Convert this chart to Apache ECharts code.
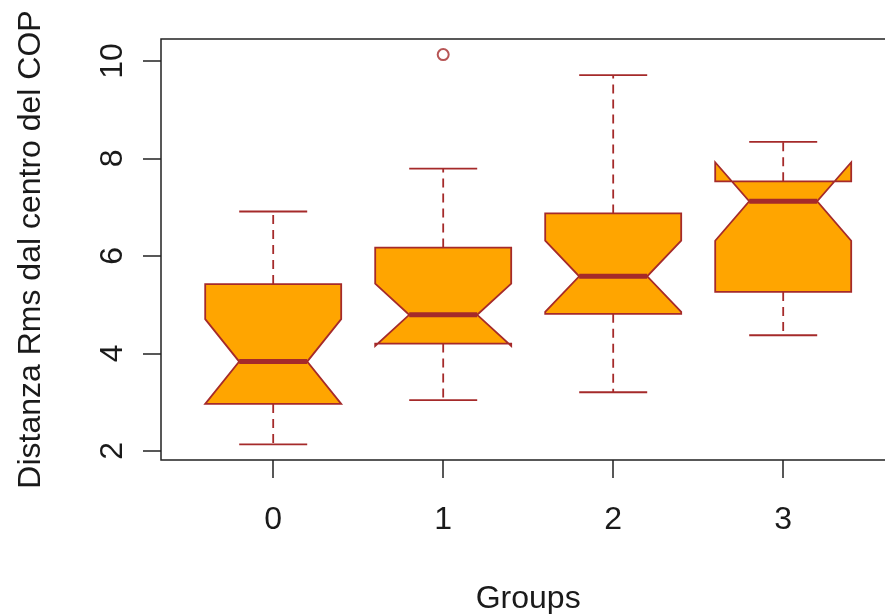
<!DOCTYPE html>
<html>
<head>
<meta charset="utf-8">
<script src="https://cdn.jsdelivr.net/npm/echarts@6/dist/echarts.min.js"></script>
<style>
  html, body { margin: 0; padding: 0; background: #ffffff; }
  #chart { width: 885px; height: 614px; }
</style>
</head>
<body>
<div id="chart"></div>
<script>
// Notched boxplot statistics per group
const groups       = ['0', '1', '2', '3'];
const whiskerLow   = [2.13, 3.04, 3.20, 4.37];
const lowerQuart   = [2.96, 4.20, 4.81, 5.26];
const medians      = [3.83, 4.79, 5.58, 7.12];
const upperQuart   = [5.42, 6.17, 6.87, 7.53];
const whiskerHigh  = [6.91, 7.79, 9.71, 8.34];
const notchLow     = [2.96, 4.15, 4.85, 6.31];
const notchHigh    = [4.70, 5.43, 6.31, 7.92];
const outliers     = [[1, 10.13]];
const yTicks       = [2, 4, 6, 8, 10];

const FILL = '#FFA500';
const EDGE = '#A52A2A';
const FONT = 'Liberation Sans, Arial, sans-serif';

const boxData = groups.map((g, i) => [
  i, whiskerLow[i], lowerQuart[i], medians[i], upperQuart[i],
  whiskerHigh[i], notchLow[i], notchHigh[i]
]);

function renderBox(params, api) {
  const x = api.value(0);
  const wid = 0.4;
  const P = (dx, v) => api.coord([x + dx, v]);
  const wl = api.value(1), q1 = api.value(2), md = api.value(3),
        q3 = api.value(4), wh = api.value(5), c1 = api.value(6), c2 = api.value(7);
  const poly = [
    P(-wid, q1), P(wid, q1), P(wid, c1), P(wid * 0.5, md), P(wid, c2),
    P(wid, q3), P(-wid, q3), P(-wid, c2), P(-wid * 0.5, md), P(-wid, c1)
  ];
  const dashed = { stroke: EDGE, lineWidth: 1.8, lineDash: [9, 6] };
  const solid = { stroke: EDGE, lineWidth: 1.8 };
  const seg = (a, b, style) => ({
    type: 'line',
    shape: { x1: a[0], y1: a[1], x2: b[0], y2: b[1] },
    style: style
  });
  return {
    type: 'group',
    children: [
      seg(P(0, q1), P(0, wl), dashed),
      seg(P(0, q3), P(0, wh), dashed),
      seg(P(-wid / 2, wl), P(wid / 2, wl), solid),
      seg(P(-wid / 2, wh), P(wid / 2, wh), solid),
      {
        type: 'polygon',
        shape: { points: poly },
        style: { fill: FILL, stroke: EDGE, lineWidth: 1.8 }
      },
      seg(P(-wid * 0.5, md), P(wid * 0.5, md), { stroke: EDGE, lineWidth: 5 })
    ]
  };
}

const chart = echarts.init(document.getElementById('chart'), null, { renderer: 'canvas' });

chart.setOption({
  animation: false,
  backgroundColor: '#ffffff',
  grid: {
    left: 161, top: 39, width: 734.4, height: 421,
    outerBoundsMode: 'none',
    containLabel: false,
    show: true, borderColor: '#222222', borderWidth: 1.5,
    backgroundColor: 'transparent'
  },
  xAxis: {
    type: 'value',
    min: -0.66, max: 3.66,
    name: 'Groups',
    nameLocation: 'middle',
    nameGap: 123,
    nameTextStyle: { fontFamily: FONT, fontSize: 32, color: '#1a1a1a' },
    axisLine: { show: false, onZero: false },
    splitLine: { show: false },
    axisTick: { show: true, length: 18, customValues: [0, 1, 2, 3],
                lineStyle: { color: '#222222', width: 1.5 } },
    axisLabel: {
      customValues: [0, 1, 2, 3],
      margin: 44,
      fontFamily: FONT, fontSize: 32, color: '#1a1a1a',
      formatter: v => groups[Math.round(v)]
    }
  },
  yAxis: {
    type: 'value',
    min: 1.81, max: 10.45,
    name: 'Distanza Rms dal centro del COP',
    nameLocation: 'middle',
    nameRotate: 90,
    nameGap: 114,
    nameTextStyle: { fontFamily: FONT, fontSize: 32, color: '#1a1a1a' },
    axisLine: { show: false, onZero: false },
    splitLine: { show: false },
    axisTick: { show: true, length: 18, customValues: yTicks,
                lineStyle: { color: '#222222', width: 1.5 } },
    axisLabel: {
      customValues: yTicks,
      rotate: 90,
      margin: 32,
      fontFamily: FONT, fontSize: 32, color: '#1a1a1a'
    }
  },
  series: [
    {
      type: 'custom',
      renderItem: renderBox,
      data: boxData,
      encode: { x: 0, y: [1, 5] },
      clip: false,
      z: 2
    },
    {
      type: 'scatter',
      data: outliers,
      symbol: 'emptyCircle',
      symbolSize: 11,
      itemStyle: { color: EDGE, borderColor: EDGE, borderWidth: 1.6 },
      z: 3
    }
  ]
});
</script>
</body>
</html>
